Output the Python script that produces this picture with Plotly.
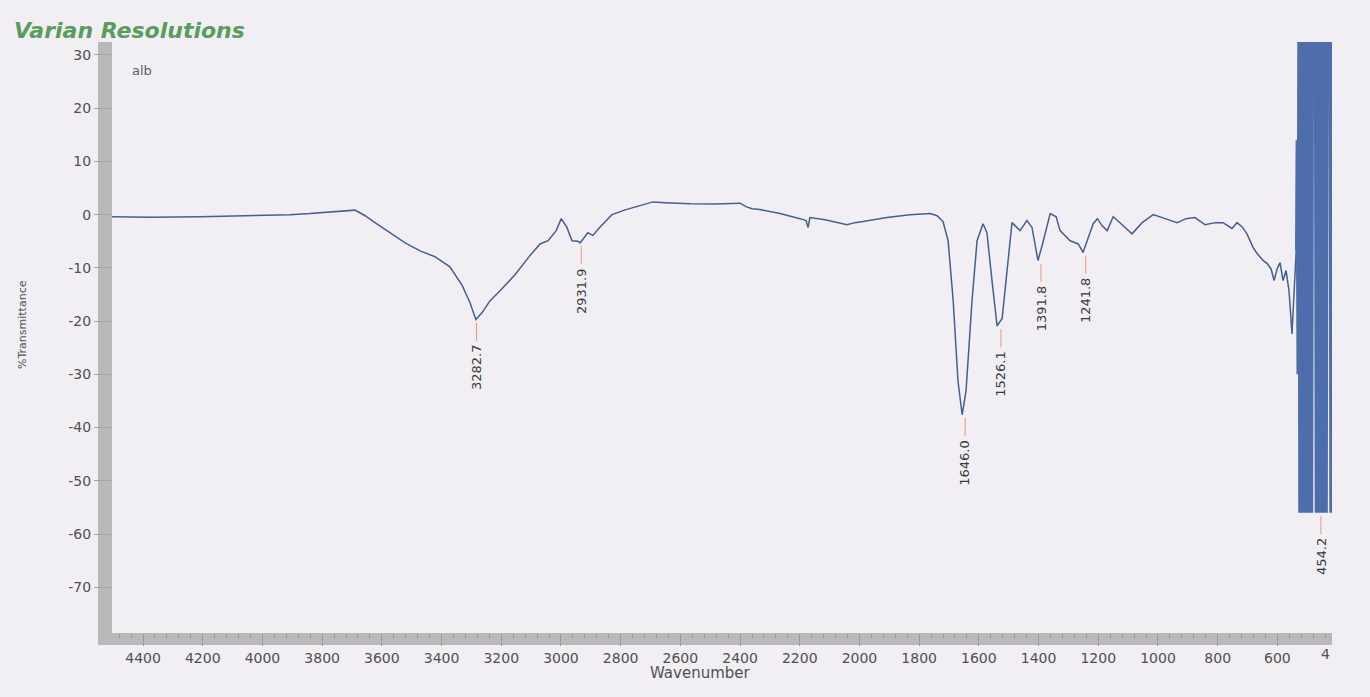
import plotly.graph_objects as go

# IR spectrum of sample "alb" (%Transmittance vs wavenumber, cm-1)
wavenumber = [4504, 4377, 4209, 4109, 4008, 3908, 3841, 3774, 3723, 3690, 3680, 3656,
              3623, 3573, 3522, 3472, 3422, 3372, 3331, 3305, 3285, 3264, 3238, 3204,
              3154, 3104, 3070, 3043, 3016, 2999, 2980, 2963, 2943, 2936, 2910, 2893,
              2869, 2829, 2785, 2735, 2692, 2651, 2567, 2484, 2400, 2380, 2360, 2333,
              2266, 2199, 2179, 2172, 2166, 2115, 2042, 2015, 1988, 1908, 1831, 1763,
              1740, 1720, 1703, 1686, 1670, 1656, 1643, 1623, 1606, 1586, 1573, 1556,
              1539, 1522, 1506, 1489, 1462, 1439, 1422, 1412, 1402, 1388, 1361, 1341,
              1328, 1294, 1267, 1251, 1234, 1217, 1203, 1187, 1170, 1150, 1120, 1087,
              1053, 1016, 976, 936, 906, 876, 842, 809, 782, 752, 735, 718, 702, 681,
              668, 648, 634, 621, 611, 601, 591, 581, 571, 561, 551, 544, 537]
transmittance = [-0.4, -0.5, -0.4, -0.3, -0.2, 0.0, 0.2, 0.5, 0.65, 0.85, 0.55, -0.2,
                 -1.5, -3.4, -5.3, -6.8, -7.9, -9.8, -13.3, -16.5, -19.7, -18.4, -16.2, -14.3,
                 -11.3, -7.7, -5.5, -4.9, -3.0, -0.75, -2.4, -4.9, -5.0, -5.3, -3.4, -3.9,
                 -2.3, 0.0, 0.9, 1.7, 2.4, 2.25, 2.05, 2.0, 2.15, 1.5, 1.1, 0.95,
                 0.2, -0.75, -1.1, -2.4, -0.55, -0.95, -1.9, -1.5, -1.3, -0.55, 0.0, 0.2,
                 -0.2, -1.3, -4.9, -16.2, -31.2, -37.6, -33.1, -16.2, -4.9, -1.7, -3.4, -12.4,
                 -20.9, -19.5, -10.5, -1.5, -3.0, -1.1, -2.4, -5.8, -8.6, -5.8, 0.2, -0.4,
                 -3.0, -4.9, -5.5, -7.1, -4.5, -1.7, -0.75, -2.1, -3.0, -0.4, -1.9, -3.6,
                 -1.5, 0.0, -0.75, -1.5, -0.75, -0.55, -1.9, -1.5, -1.5, -2.6, -1.5, -2.3, -3.6, -6.2,
                 -7.3, -8.6, -9.2, -10.2, -12.4, -10.2, -9.0, -12.4, -10.5, -14.3, -22.4, -15.2, -6.8]

# Saturated low-wavenumber region (detector noise swinging off scale)
noise_wn = [535, 532, 529, 526, 523, 520, 517, 514, 511, 508, 505, 502, 499, 496, 493,
            490, 487, 484, 481, 474, 471, 468, 465, 462, 459, 456, 453, 450, 447, 444,
            441, 438, 435, 432, 425, 422, 419, 416]
noise_t = [14, -30, 40, -56, 40, -56, 40, -56, 40, -56, 40, -56, 40, -56, 40,
           -56, 40, -56, 40, 40, -56, 40, -56, 40, -56, 40, -56, 40, -56, 40,
           -56, 40, -56, 40, 40, -56, 40, -56]

# Labelled peaks
peak_wn = [3282.7, 2931.9, 1646.0, 1526.1, 1391.8, 1241.8, 454.2]
peak_t = [-19.7, -5.3, -37.6, -20.9, -8.6, -7.1, -56.0]
peak_labels = ["3282.7", "2931.9", "1646.0", "1526.1", "1391.8", "1241.8", "454.2"]

x_ticks = [4400, 4200, 4000, 3800, 3600, 3400, 3200, 3000, 2800, 2600, 2400,
           2200, 2000, 1800, 1600, 1400, 1200, 1000, 800, 600]
y_ticks = [30, 20, 10, 0, -10, -20, -30, -40, -50, -60, -70]

BG = "#f1eff3"
BAR = "#b9b9b9"
FONT = "DejaVu Sans"

fig = go.Figure()
fig.add_trace(go.Scatter(x=wavenumber, y=transmittance, mode="lines",
                         line=dict(color="#465f90", width=1.5), hoverinfo="skip"))
fig.add_trace(go.Scatter(x=[wavenumber[-1]] + noise_wn, y=[transmittance[-1]] + noise_t,
                         mode="lines", line=dict(color="#4e6dab", width=2.4),
                         hoverinfo="skip"))

shapes = [
    # grey axis bars
    dict(type="rect", xref="paper", yref="paper", x0=-14 / 1220, x1=0,
         y0=-12 / 591, y1=1, fillcolor=BAR, line=dict(width=0), layer="below"),
    dict(type="rect", xref="paper", yref="paper", x0=-14 / 1220, x1=1,
         y0=-12 / 591, y1=0, fillcolor=BAR, line=dict(width=0), layer="below"),
]
annotations = []
for wn, t, lab in zip(peak_wn, peak_t, peak_labels):
    shapes.append(dict(type="line", xref="x", yref="y", x0=wn, x1=wn,
                       y0=t - 0.6, y1=t - 4.0, line=dict(color="#e9977a", width=1)))
    annotations.append(dict(x=wn, y=t - 4.3, xref="x", yref="y", text=lab,
                            showarrow=False, textangle=-90, xanchor="center",
                            yanchor="top", font=dict(family=FONT, size=13, color="#3a3a3a")))

annotations += [
    dict(x=-100 / 1220, y=(633 - 31) / 591, xref="paper", yref="paper",
         text="<b><i>Varian Resolutions</i></b>", showarrow=False, xanchor="left",
         yanchor="middle", font=dict(family=FONT, size=22, color="#5a9c5c")),
    dict(x=18 / 1220, y=(633 - 70) / 591, xref="paper", yref="paper", text="alb",
         showarrow=False, xanchor="left", yanchor="middle",
         font=dict(family=FONT, size=13, color="#606060")),
    dict(x=(22 - 112) / 1220, y=(633 - 325) / 591, xref="paper", yref="paper",
         text="%Transmittance", showarrow=False, textangle=-90, xanchor="center",
         yanchor="middle", font=dict(family=FONT, size=11, color="#505050")),
    dict(x=(700 - 112) / 1220, y=(633 - 673) / 591, xref="paper", yref="paper",
         text="Wavenumber", showarrow=False, xanchor="center", yanchor="middle",
         font=dict(family=FONT, size=15, color="#505050")),
    dict(x=1, y=(633 - 654) / 591, xref="paper", yref="paper", text="4",
         showarrow=False, xanchor="right", yanchor="middle",
         font=dict(family=FONT, size=14, color="#505050")),
]

fig.update_layout(
    width=1370, height=697,
    margin=dict(l=112, r=38, t=42, b=64),
    paper_bgcolor=BG, plot_bgcolor=BG,
    showlegend=False,
    shapes=shapes,
    annotations=annotations,
    xaxis=dict(range=[4504, 417], tickmode="array", tickvals=x_ticks,
               ticktext=[str(v) for v in x_ticks],
               showgrid=False, zeroline=False, showline=False,
               ticks="outside", ticklen=12, tickcolor="#9a9a9a", tickwidth=1,
               tickfont=dict(family=FONT, size=14, color="#505050"),
               minor=dict(ticks="outside", ticklen=4, tickcolor="#999999",
                          tickmode="linear", tick0=0, dtick=40, showgrid=False)),
    yaxis=dict(range=[-78.6, 32.44], tickmode="array", tickvals=y_ticks,
               ticktext=[str(v) for v in y_ticks],
               showgrid=False, zeroline=False, showline=False,
               ticks="outside", ticklen=17, tickcolor="#a5a5a5", tickwidth=1,
               tickfont=dict(family=FONT, size=14, color="#505050")),
)

fig.write_html("out.html")
